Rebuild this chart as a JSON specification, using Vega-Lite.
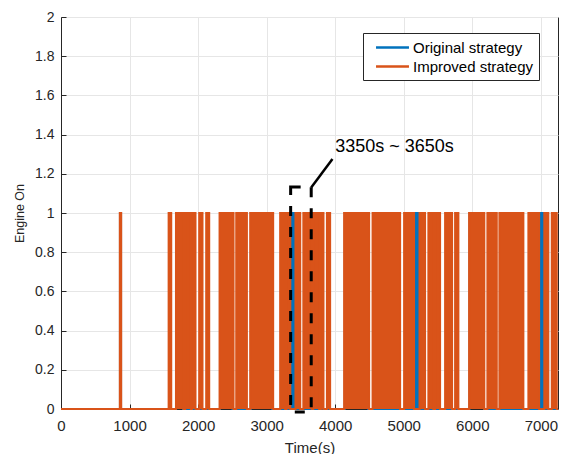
{
  "$schema": "https://vega.github.io/schema/vega-lite/v6.json",
  "width": 497,
  "height": 392,
  "autosize": {"type": "none"},
  "padding": {"left": 61, "top": 17, "right": 4, "bottom": 45},
  "background": "white",
  "config": {
    "view": {"stroke": "#262626", "strokeWidth": 1},
    "font": "Liberation Sans",
    "axis": {
      "domainColor": "#262626",
      "tickColor": "#262626",
      "gridColor": "#e6e6e6",
      "gridWidth": 1,
      "labelColor": "#262626",
      "titleColor": "#262626",
      "labelFont": "Liberation Sans",
      "titleFont": "Liberation Sans",
      "titleFontWeight": "normal",
      "labelOverlap": false,
      "labelFlush": false,
      "tickSize": -5
    },
    "axisX": {"labelFontSize": 15, "titleFontSize": 15, "labelPadding": 14, "titlePadding": 7},
    "axisY": {"labelFontSize": 14, "titleFontSize": 12.5, "labelPadding": 12, "titlePadding": 8},
    "legend": {
      "orient": "none",
      "legendX": 302,
      "legendY": 16,
      "fillColor": "white",
      "strokeColor": "#262626",
      "padding": 5,
      "symbolType": "M-2.06,0H2.06",
      "symbolSize": 256,
      "symbolOffset": 15,
      "symbolStrokeWidth": 2.5,
      "labelFont": "Liberation Sans",
      "labelFontSize": 15,
      "labelColor": "#000000",
      "labelOffset": 11,
      "rowPadding": 1,
      "title": null
    }
  },
  "datasets": {
    "sw": [
      {"s": "Original strategy", "t": 0, "v": 0},
      {"s": "Original strategy", "t": 860, "v": 1}, {"s": "Original strategy", "t": 876, "v": 0},
      {"s": "Original strategy", "t": 1680, "v": 1}, {"s": "Original strategy", "t": 1780, "v": 0},
      {"s": "Original strategy", "t": 2320, "v": 1}, {"s": "Original strategy", "t": 2500, "v": 0},
      {"s": "Original strategy", "t": 2770, "v": 1}, {"s": "Original strategy", "t": 3080, "v": 0},
      {"s": "Original strategy", "t": 3345, "v": 1}, {"s": "Original strategy", "t": 3420, "v": 0},
      {"s": "Original strategy", "t": 4140, "v": 1}, {"s": "Original strategy", "t": 4480, "v": 0},
      {"s": "Original strategy", "t": 5150, "v": 1}, {"s": "Original strategy", "t": 5230, "v": 0},
      {"s": "Original strategy", "t": 5960, "v": 1}, {"s": "Original strategy", "t": 6170, "v": 0},
      {"s": "Original strategy", "t": 6975, "v": 1}, {"s": "Original strategy", "t": 7050, "v": 0},
      {"s": "Original strategy", "t": 7250, "v": 0},
      {"s": "Improved strategy", "t": 0, "v": 0},
      {"s": "Improved strategy", "t": 858, "v": 1}, {"s": "Improved strategy", "t": 878, "v": 0},
      {"s": "Improved strategy", "t": 1570, "v": 1}, {"s": "Improved strategy", "t": 1582, "v": 0},
      {"s": "Improved strategy", "t": 1596, "v": 1}, {"s": "Improved strategy", "t": 1608, "v": 0},
      {"s": "Improved strategy", "t": 1677, "v": 1}, {"s": "Improved strategy", "t": 1788, "v": 0},
      {"s": "Improved strategy", "t": 1812, "v": 1}, {"s": "Improved strategy", "t": 1895, "v": 0},
      {"s": "Improved strategy", "t": 1910, "v": 1}, {"s": "Improved strategy", "t": 1962, "v": 0},
      {"s": "Improved strategy", "t": 2016, "v": 1}, {"s": "Improved strategy", "t": 2064, "v": 0},
      {"s": "Improved strategy", "t": 2118, "v": 1}, {"s": "Improved strategy", "t": 2162, "v": 0},
      {"s": "Improved strategy", "t": 2313, "v": 1}, {"s": "Improved strategy", "t": 2517, "v": 0},
      {"s": "Improved strategy", "t": 2556, "v": 1}, {"s": "Improved strategy", "t": 2712, "v": 0},
      {"s": "Improved strategy", "t": 2760, "v": 1}, {"s": "Improved strategy", "t": 3095, "v": 0},
      {"s": "Improved strategy", "t": 3197, "v": 1}, {"s": "Improved strategy", "t": 3270, "v": 0},
      {"s": "Improved strategy", "t": 3290, "v": 1}, {"s": "Improved strategy", "t": 3345, "v": 0},
      {"s": "Improved strategy", "t": 3420, "v": 1}, {"s": "Improved strategy", "t": 3490, "v": 0},
      {"s": "Improved strategy", "t": 3535, "v": 1}, {"s": "Improved strategy", "t": 3660, "v": 0},
      {"s": "Improved strategy", "t": 3679, "v": 1}, {"s": "Improved strategy", "t": 3766, "v": 0},
      {"s": "Improved strategy", "t": 3791, "v": 1}, {"s": "Improved strategy", "t": 3829, "v": 0},
      {"s": "Improved strategy", "t": 3879, "v": 1}, {"s": "Improved strategy", "t": 3926, "v": 0},
      {"s": "Improved strategy", "t": 4130, "v": 1}, {"s": "Improved strategy", "t": 4495, "v": 0},
      {"s": "Improved strategy", "t": 4545, "v": 1}, {"s": "Improved strategy", "t": 4947, "v": 0},
      {"s": "Improved strategy", "t": 5005, "v": 1}, {"s": "Improved strategy", "t": 5150, "v": 0},
      {"s": "Improved strategy", "t": 5230, "v": 1}, {"s": "Improved strategy", "t": 5311, "v": 0},
      {"s": "Improved strategy", "t": 5359, "v": 1}, {"s": "Improved strategy", "t": 5432, "v": 0},
      {"s": "Improved strategy", "t": 5457, "v": 1}, {"s": "Improved strategy", "t": 5530, "v": 0},
      {"s": "Improved strategy", "t": 5603, "v": 1}, {"s": "Improved strategy", "t": 5705, "v": 0},
      {"s": "Improved strategy", "t": 5749, "v": 1}, {"s": "Improved strategy", "t": 5797, "v": 0},
      {"s": "Improved strategy", "t": 5953, "v": 1}, {"s": "Improved strategy", "t": 6175, "v": 0},
      {"s": "Improved strategy", "t": 6220, "v": 1}, {"s": "Improved strategy", "t": 6357, "v": 0},
      {"s": "Improved strategy", "t": 6395, "v": 1}, {"s": "Improved strategy", "t": 6745, "v": 0},
      {"s": "Improved strategy", "t": 6818, "v": 1}, {"s": "Improved strategy", "t": 6975, "v": 0},
      {"s": "Improved strategy", "t": 7050, "v": 1}, {"s": "Improved strategy", "t": 7109, "v": 0},
      {"s": "Improved strategy", "t": 7159, "v": 1}, {"s": "Improved strategy", "t": 7232, "v": 0},
      {"s": "Improved strategy", "t": 7250, "v": 0}
    ],
    "box": [{"x1": 3350, "x2": 3650, "y1": -0.015, "y2": 1.133}],
    "lead": [{"x1": 3650, "y1": 1.13, "x2": 3960, "y2": 1.275}],
    "lbl": [{"t": 4000, "v": 1.338, "label": "3350s ~ 3650s"}]
  },
  "layer": [
    {
      "data": {"name": "sw"},
      "transform": [{"filter": "datum.s === 'Original strategy'"}],
      "mark": {"type": "area", "interpolate": "step-after", "color": "#0072BD"},
      "encoding": {
        "x": {"field": "t", "type": "quantitative", "title": "Time(s)",
              "scale": {"domain": [0, 7250], "nice": false, "zero": false},
              "axis": {"values": [0, 1000, 2000, 3000, 4000, 5000, 6000, 7000], "format": "d", "grid": true, "labelOverlap": false, "labelFlush": false}},
        "y": {"field": "v", "type": "quantitative", "title": "Engine On",
              "scale": {"domain": [0, 2], "nice": false},
              "axis": {"values": [0, 0.2, 0.4, 0.6, 0.8, 1, 1.2, 1.4, 1.6, 1.8, 2], "tickCount": 11, "format": "~g", "grid": true, "labelOverlap": false, "labelFlush": false}}
      }
    },
    {
      "data": {"name": "sw"},
      "transform": [{"filter": "datum.s === 'Original strategy'"}],
      "mark": {"type": "line", "interpolate": "step-after", "strokeWidth": 2},
      "encoding": {
        "x": {"field": "t", "type": "quantitative", "title": "Time(s)"},
        "y": {"field": "v", "type": "quantitative", "title": "Engine On",
              "axis": {"values": [0, 0.2, 0.4, 0.6, 0.8, 1, 1.2, 1.4, 1.6, 1.8, 2], "tickCount": 11, "format": "~g", "grid": true, "labelOverlap": false, "labelFlush": false}},
        "color": {"field": "s", "type": "nominal",
                  "scale": {"domain": ["Original strategy", "Improved strategy"], "range": ["#0072BD", "#D95319"]}}
      }
    },
    {
      "data": {"name": "sw"},
      "transform": [{"filter": "datum.s === 'Improved strategy'"}],
      "mark": {"type": "area", "interpolate": "step-after", "color": "#D95319"},
      "encoding": {
        "x": {"field": "t", "type": "quantitative", "title": "Time(s)"},
        "y": {"field": "v", "type": "quantitative", "title": "Engine On",
              "axis": {"values": [0, 0.2, 0.4, 0.6, 0.8, 1, 1.2, 1.4, 1.6, 1.8, 2], "tickCount": 11, "format": "~g", "grid": true, "labelOverlap": false, "labelFlush": false}}
      }
    },
    {
      "data": {"name": "sw"},
      "transform": [{"filter": "datum.s === 'Improved strategy'"}],
      "mark": {"type": "line", "interpolate": "step-after", "strokeWidth": 2},
      "encoding": {
        "x": {"field": "t", "type": "quantitative", "title": "Time(s)"},
        "y": {"field": "v", "type": "quantitative", "title": "Engine On",
              "axis": {"values": [0, 0.2, 0.4, 0.6, 0.8, 1, 1.2, 1.4, 1.6, 1.8, 2], "tickCount": 11, "format": "~g", "grid": true, "labelOverlap": false, "labelFlush": false}},
        "color": {"field": "s", "type": "nominal"}
      }
    },
    {
      "data": {"name": "box"},
      "mark": {"type": "rect", "fill": null, "fillOpacity": 0, "stroke": "#000000", "strokeWidth": 3, "strokeDash": [10, 11]},
      "encoding": {
        "x": {"field": "x1", "type": "quantitative", "title": "Time(s)"},
        "x2": {"field": "x2"},
        "y": {"field": "y1", "type": "quantitative", "title": "Engine On",
              "axis": {"values": [0, 0.2, 0.4, 0.6, 0.8, 1, 1.2, 1.4, 1.6, 1.8, 2], "tickCount": 11, "format": "~g", "grid": true, "labelOverlap": false, "labelFlush": false}},
        "y2": {"field": "y2"}
      }
    },
    {
      "data": {"name": "lead"},
      "mark": {"type": "rule", "color": "#000000", "strokeWidth": 2.5},
      "encoding": {
        "x": {"field": "x1", "type": "quantitative", "title": "Time(s)"},
        "x2": {"field": "x2"},
        "y": {"field": "y1", "type": "quantitative", "title": "Engine On",
              "axis": {"values": [0, 0.2, 0.4, 0.6, 0.8, 1, 1.2, 1.4, 1.6, 1.8, 2], "tickCount": 11, "format": "~g", "grid": true, "labelOverlap": false, "labelFlush": false}},
        "y2": {"field": "y2"}
      }
    },
    {
      "data": {"name": "lbl"},
      "mark": {"type": "text", "align": "left", "baseline": "middle", "font": "Liberation Sans", "fontSize": 18, "color": "#000000"},
      "encoding": {
        "x": {"field": "t", "type": "quantitative", "title": "Time(s)"},
        "y": {"field": "v", "type": "quantitative", "title": "Engine On",
              "axis": {"values": [0, 0.2, 0.4, 0.6, 0.8, 1, 1.2, 1.4, 1.6, 1.8, 2], "tickCount": 11, "format": "~g", "grid": true, "labelOverlap": false, "labelFlush": false}},
        "text": {"field": "label"}
      }
    }
  ]
}
